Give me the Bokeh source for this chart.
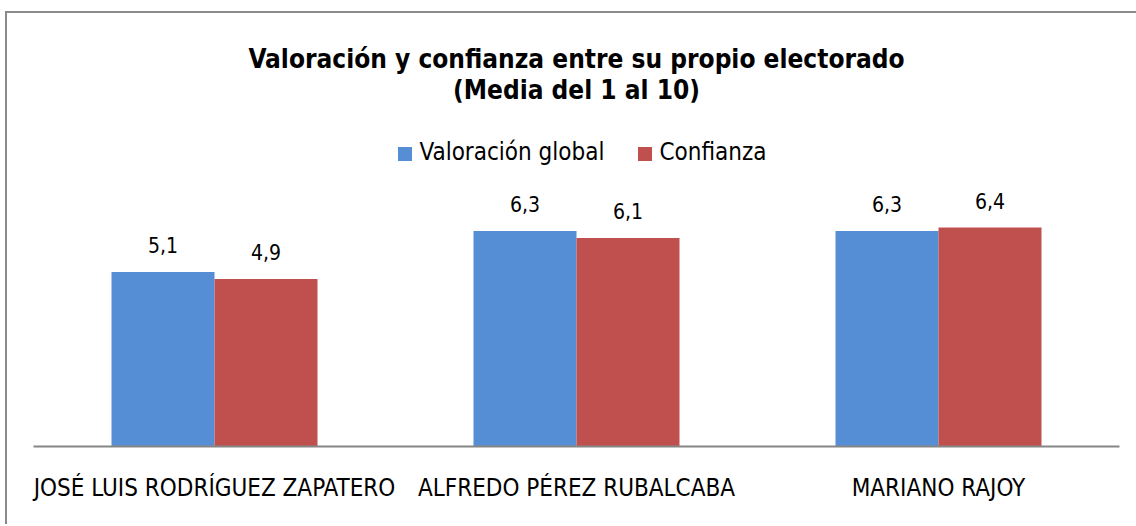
from bokeh.plotting import figure
from bokeh.models import Range1d, FixedTicker
from bokeh.core.properties import value
from bokeh.embed import file_html
from bokeh.resources import INLINE

# ---------------- data ----------------
categories = ["JOSÉ LUIS RODRÍGUEZ ZAPATERO", "ALFREDO PÉREZ RUBALCABA", "MARIANO RAJOY"]
series_names = ["Valoración global", "Confianza"]
valoracion_global = [5.1, 6.3, 6.3]
confianza = [4.9, 6.1, 6.4]
title_lines = ["Valoración y confianza entre su propio electorado", "(Media del 1 al 10)"]

# ---------------- style ----------------
BLUE = "#558ED5"
RED = "#C0504D"
GRAY = "#868686"
FONT = "'Liberation Sans Narrow', 'DejaVu Sans Condensed', 'Roboto Condensed', Roboto, sans-serif"

W, H = 1140, 513
ORIGIN_X, ORIGIN_Y = 7, 13           # canvas origin in picture (margin + 2px border)
FRAME_L, FRAME_R, BASE = 33, 1119, 446  # picture pixels
PX_PER_UNIT = 34.2
CAT_PX = (FRAME_R - FRAME_L) / 3.0

def dx(px):
    return (px - FRAME_L) / CAT_PX - 0.5

def dy(py):
    return (BASE - py) / PX_PER_UNIT

y_end = (BASE - ORIGIN_Y) / PX_PER_UNIT

p = figure(
    width=W, height=H,
    x_range=Range1d(-0.5, 2.5), y_range=Range1d(0, y_end),
    output_backend="svg", toolbar_location=None,
    y_axis_location=None,
    min_border_left=FRAME_L - ORIGIN_X,
    min_border_right=W - (FRAME_R - ORIGIN_X),
    min_border_top=0,
    min_border_bottom=H - (BASE - ORIGIN_Y),
    styles={"border-left": "2px solid #8A8A8A", "border-top": "2px solid #8A8A8A",
            "margin-left": "5px", "margin-top": "11px"},
)
p.outline_line_color = None
p.xgrid.visible = False
p.ygrid.visible = False
p.background_fill_color = "white"
p.border_fill_color = "white"

# bars
bw = 103 / CAT_PX
xs = list(range(len(categories)))
x_vg = [x - bw / 2 for x in xs]
x_cf = [x + bw / 2 for x in xs]
p.vbar(x=x_vg, top=valoracion_global, width=bw, fill_color=BLUE, line_color=None)
p.vbar(x=x_cf, top=confianza, width=bw, fill_color=RED, line_color=None)

# value labels
def fmt(v):
    return f"{v:.1f}".replace(".", ",")

for xv, vals in ((x_vg, valoracion_global), (x_cf, confianza)):
    p.text(x=xv, y=vals, text=[fmt(v) for v in vals], y_offset=-27,
           text_align="center", text_baseline="alphabetic",
           text_font=value(FONT), text_font_size="21px", text_color="black")

# title
p.text(x=[1, 1], y=[dy(67 - 9), dy(98 - 9)], text=title_lines,
       text_align="center", text_baseline="alphabetic",
       text_font=value(FONT), text_font_style="bold", text_font_size="26px",
       text_color="black")

# legend
p.scatter(x=[dx(404.5), dx(644.5)], y=[dy(153.5), dy(153.5)], marker="square",
          size=14, fill_color=[BLUE, RED], line_color=None)
p.text(x=[dx(419), dx(659)], y=[dy(159 - 8), dy(159 - 8)], text=series_names,
       text_align="left", text_baseline="alphabetic",
       text_font=value(FONT), text_font_size="24px", text_color="black")

# x axis
ax = p.xaxis[0]
ax.ticker = FixedTicker(ticks=xs)
ax.major_label_overrides = {i: c for i, c in enumerate(categories)}
ax.major_tick_line_color = None
ax.minor_tick_line_color = None
ax.axis_line_color = GRAY
ax.axis_line_width = 2
ax.major_label_standoff = 21
ax.major_label_text_font = FONT
ax.major_label_text_font_size = "24px"
ax.major_label_text_color = "black"

open("out.html", "w").write(file_html(p, INLINE))
